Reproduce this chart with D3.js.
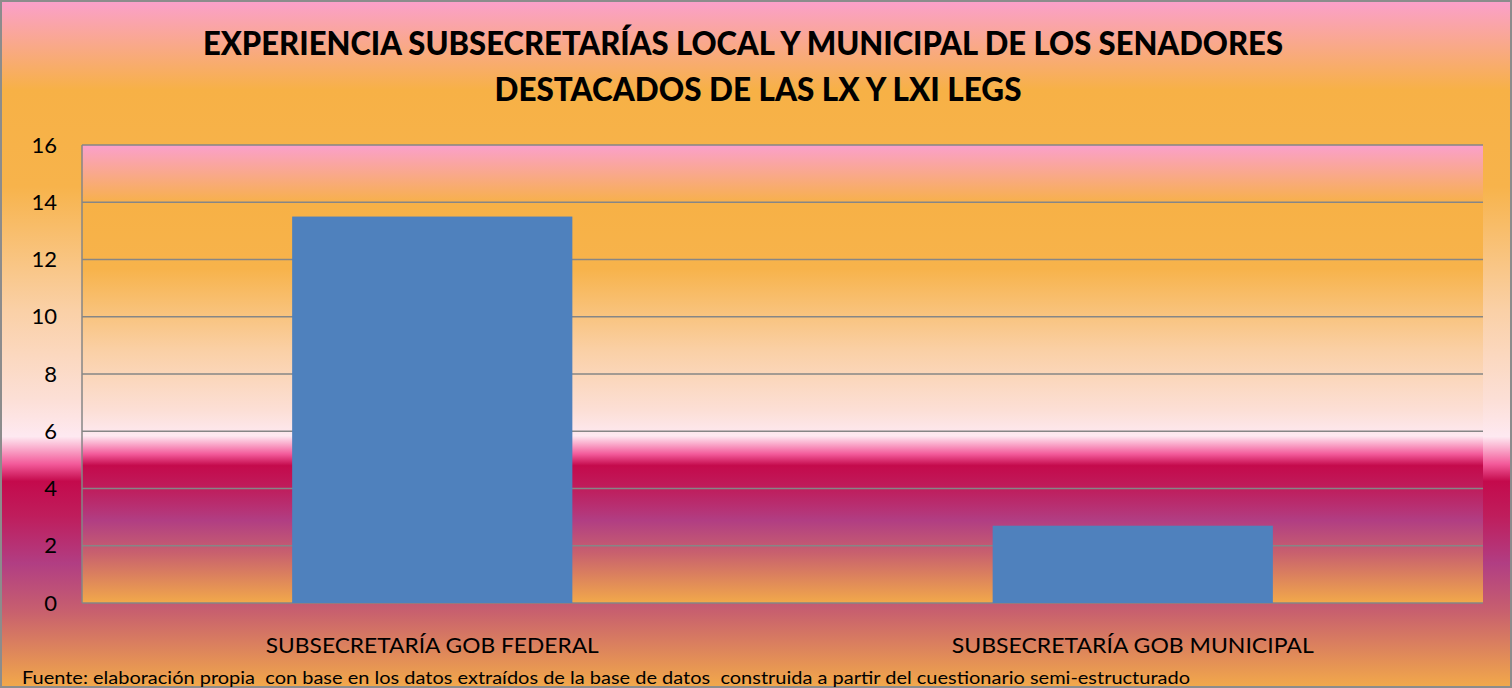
<!DOCTYPE html>
<html>
<head>
<meta charset="utf-8">
<script src="https://cdn.jsdelivr.net/npm/d3@7"></script>
<style>
  body { margin: 0; background: #fff; }
  svg text { font-family: Lato, "Open Sans", sans-serif; fill: #000; }
</style>
</head>
<body>
<div id="chart"></div>
<script>
// data
const categories = ["SUBSECRETARÍA GOB FEDERAL", "SUBSECRETARÍA GOB MUNICIPAL"],
  values = [13.5, 2.7],
  yTicks = [0, 2, 4, 6, 8, 10, 12, 14, 16],
  titleLines = ["EXPERIENCIA SUBSECRETARÍAS LOCAL Y MUNICIPAL DE LOS SENADORES", "DESTACADOS DE LAS LX Y LXI LEGS"],
  footer = "Fuente: elaboración propia  con base en los datos extraídos de la base de datos  construida a partir del cuestionario semi-estructurado";

// sizes
const W = 1512, H = 688,
  p = { top: 145, right: 29, bottom: 85, left: 82 },
  w = W - p.left - p.right,
  h = H - p.top - p.bottom;

const svg = d3.select("#chart")
  .append("svg")
  .attr("width", W)
  .attr("height", H);

// office-like "sunset" gradient
const stops = [
  [0, "#fba0cc"], [0.13, "#f7b146"], [0.27, "#f7b34b"], [0.45, "#fad0a6"],
  [0.58, "#fcdfd6"], [0.635, "#fee9f1"], [0.655, "#f9a2c6"], [0.675, "#f35a9a"],
  [0.70, "#c40a4c"], [0.75, "#bf1d5c"], [0.82, "#b13e83"], [0.89, "#c8606e"],
  [1, "#f2a94a"]
];
const grad = svg.append("defs").append("linearGradient")
  .attr("id", "sunset")
  .attr("x1", 0).attr("y1", 0).attr("x2", 0).attr("y2", 1);
grad.selectAll("stop")
  .data(stops)
  .enter()
  .append("stop")
  .attr("offset", d => d[0])
  .attr("stop-color", d => d[1]);

// background
svg.append("rect")
  .attr("x", 1).attr("y", 1)
  .attr("width", W - 2).attr("height", H - 2)
  .attr("fill", "url(#sunset)")
  .attr("stroke", "#8c8c8c")
  .attr("stroke-width", 2);

// plot area
const g = svg.append("g").attr("transform", `translate(${p.left},${p.top})`);
g.append("rect")
  .attr("width", w).attr("height", h)
  .attr("fill", "url(#sunset)");

// scales
const x = d3.scaleBand().domain(categories).range([0, w]).paddingInner(0.6).paddingOuter(0.3);
const xCat = d3.scaleBand().domain(categories).range([0, w]);
const y = d3.scaleLinear().domain([0, 16]).range([h, 0]);

// gridlines
g.selectAll(".grid")
  .data(yTicks)
  .enter()
  .append("line")
  .attr("x1", 0).attr("x2", w)
  .attr("y1", d => y(d)).attr("y2", d => y(d))
  .attr("stroke", "#868686")
  .attr("stroke-width", 1.5);

// bars
g.selectAll(".bar")
  .data(values)
  .enter()
  .append("rect")
  .attr("class", "bar")
  .attr("x", (d, i) => x(categories[i]))
  .attr("y", d => y(d))
  .attr("width", x.bandwidth())
  .attr("height", d => h - y(d))
  .attr("fill", "#4f81bd");

// y axis line
g.append("line")
  .attr("x1", 0).attr("x2", 0)
  .attr("y1", 0).attr("y2", h)
  .attr("stroke", "#868686")
  .attr("stroke-width", 1.5);

// y axis labels
const yAxis = d3.axisLeft(y).tickValues(yTicks).tickSize(0).tickPadding(25);
g.append("g")
  .call(yAxis)
  .call(a => a.select(".domain").remove())
  .selectAll("text")
  .attr("font-size", 22)
  .attr("font-family", "Lato, sans-serif")
  .attr("fill", "#000");

// category labels
g.selectAll(".cat")
  .data(categories)
  .enter()
  .append("text")
  .attr("x", d => xCat(d) + xCat.bandwidth() / 2)
  .attr("y", h + 50)
  .attr("text-anchor", "middle")
  .attr("font-size", 22)
  .attr("textLength", (d, i) => i === 0 ? 333 : 362)
  .attr("lengthAdjust", "spacingAndGlyphs")
  .text(d => d);

// title
svg.selectAll(".title")
  .data(titleLines)
  .enter()
  .append("text")
  .attr("x", (d, i) => i === 0 ? 743 : 758)
  .attr("y", (d, i) => 55 + i * 46)
  .attr("text-anchor", "middle")
  .attr("font-size", 32)
  .attr("font-weight", 900)
  .attr("textLength", (d, i) => i === 0 ? 1080 : 527)
  .attr("lengthAdjust", "spacingAndGlyphs")
  .text(d => d);

// footer
svg.append("text")
  .attr("x", 22)
  .attr("y", 684)
  .attr("font-size", 18)
  .style("white-space", "pre")
  .attr("textLength", 1168)
  .attr("lengthAdjust", "spacingAndGlyphs")
  .text(footer);
</script>
</body>
</html>
